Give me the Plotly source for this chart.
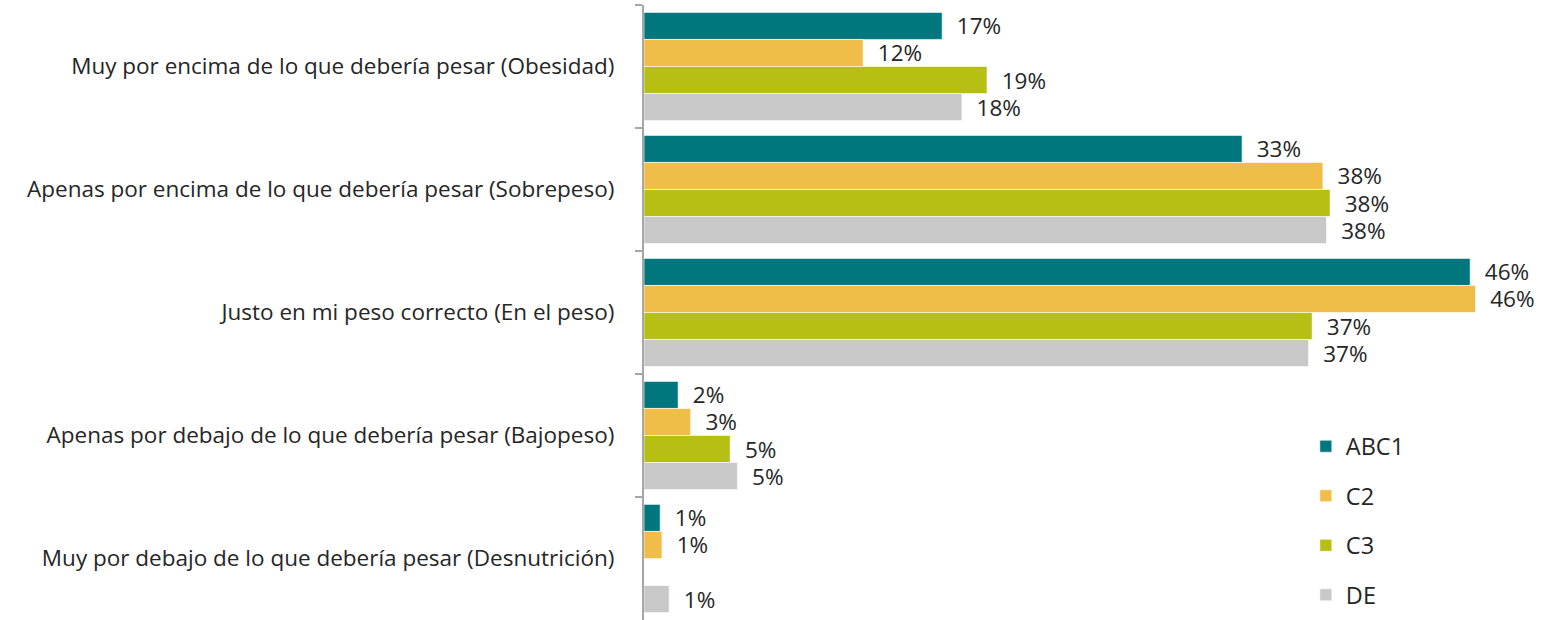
import plotly.graph_objects as go

categories = [
    "Muy por encima de lo que debería pesar (Obesidad)",
    "Apenas por encima de lo que debería pesar (Sobrepeso)",
    "Justo en mi peso correcto (En el peso)",
    "Apenas por debajo de lo que debería pesar (Bajopeso)",
    "Muy por debajo de lo que debería pesar (Desnutrición)",
]
series_names = ["ABC1", "C2", "C3", "DE"]
abc1 = [16.6, 33.3, 46.0, 1.9, 0.9]
c2 = [12.2, 37.8, 46.3, 2.6, 1.0]
c3 = [19.1, 38.2, 37.2, 4.8, None]
de = [17.7, 38.0, 37.0, 5.2, 1.4]
series_values = [abc1, c2, c3, de]
colors = ["#00777F", "#F0BE48", "#B6BF13", "#C8C8C8"]

FONT = "Open Sans, Calibri, Carlito, sans-serif"
FS = 22.5
FS_CAT = 22.5

fig = go.Figure()
for i, (name, vals, col) in enumerate(zip(series_names, series_values, colors)):
    fig.add_trace(go.Bar(
        name=name, y=categories, x=vals, orientation="h",
        marker=dict(color=col, line=dict(color="rgba(255,255,255,0.6)", width=1)),
        text=[("  %d%%" % round(v)) if v is not None else "" for v in vals],
        textposition="outside", cliponaxis=False, constraintext="none",
        textfont=dict(family=FONT, size=FS, color="#262626"),
        legendgroup=name,
    ))

fig.update_layout(
    width=1556, height=620,
    margin=dict(l=644, r=14, t=5, b=0, autoexpand=False),
    paper_bgcolor="white", plot_bgcolor="white",
    barmode="group", bargap=0.12, bargroupgap=0,
    font=dict(family=FONT, size=FS, color="#262626"),
    legend=dict(x=0.737, y=0.318, xanchor="left", yanchor="top",
                font=dict(family=FONT, size=23.5, color="#262626"),
                tracegroupgap=16, bgcolor="rgba(0,0,0,0)"),
    xaxis=dict(range=[0, 50], visible=False, showgrid=False, zeroline=False,
               automargin=False),
    yaxis=dict(autorange="reversed", type="category", showline=True,
               linecolor="#A6A6A6", linewidth=1.5, ticks="outside",
               tickson="boundaries", ticklen=7, tickcolor="#A6A6A6",
               tickwidth=1.5, ticksuffix="    ", showgrid=False,
               automargin=False,
               tickfont=dict(family=FONT, size=FS_CAT, color="#262626")),
)

fig.write_html("out.html",
               config={"displayModeBar": False},
               post_script="document.body.style.margin='0';document.body.style.overflow='hidden';")
